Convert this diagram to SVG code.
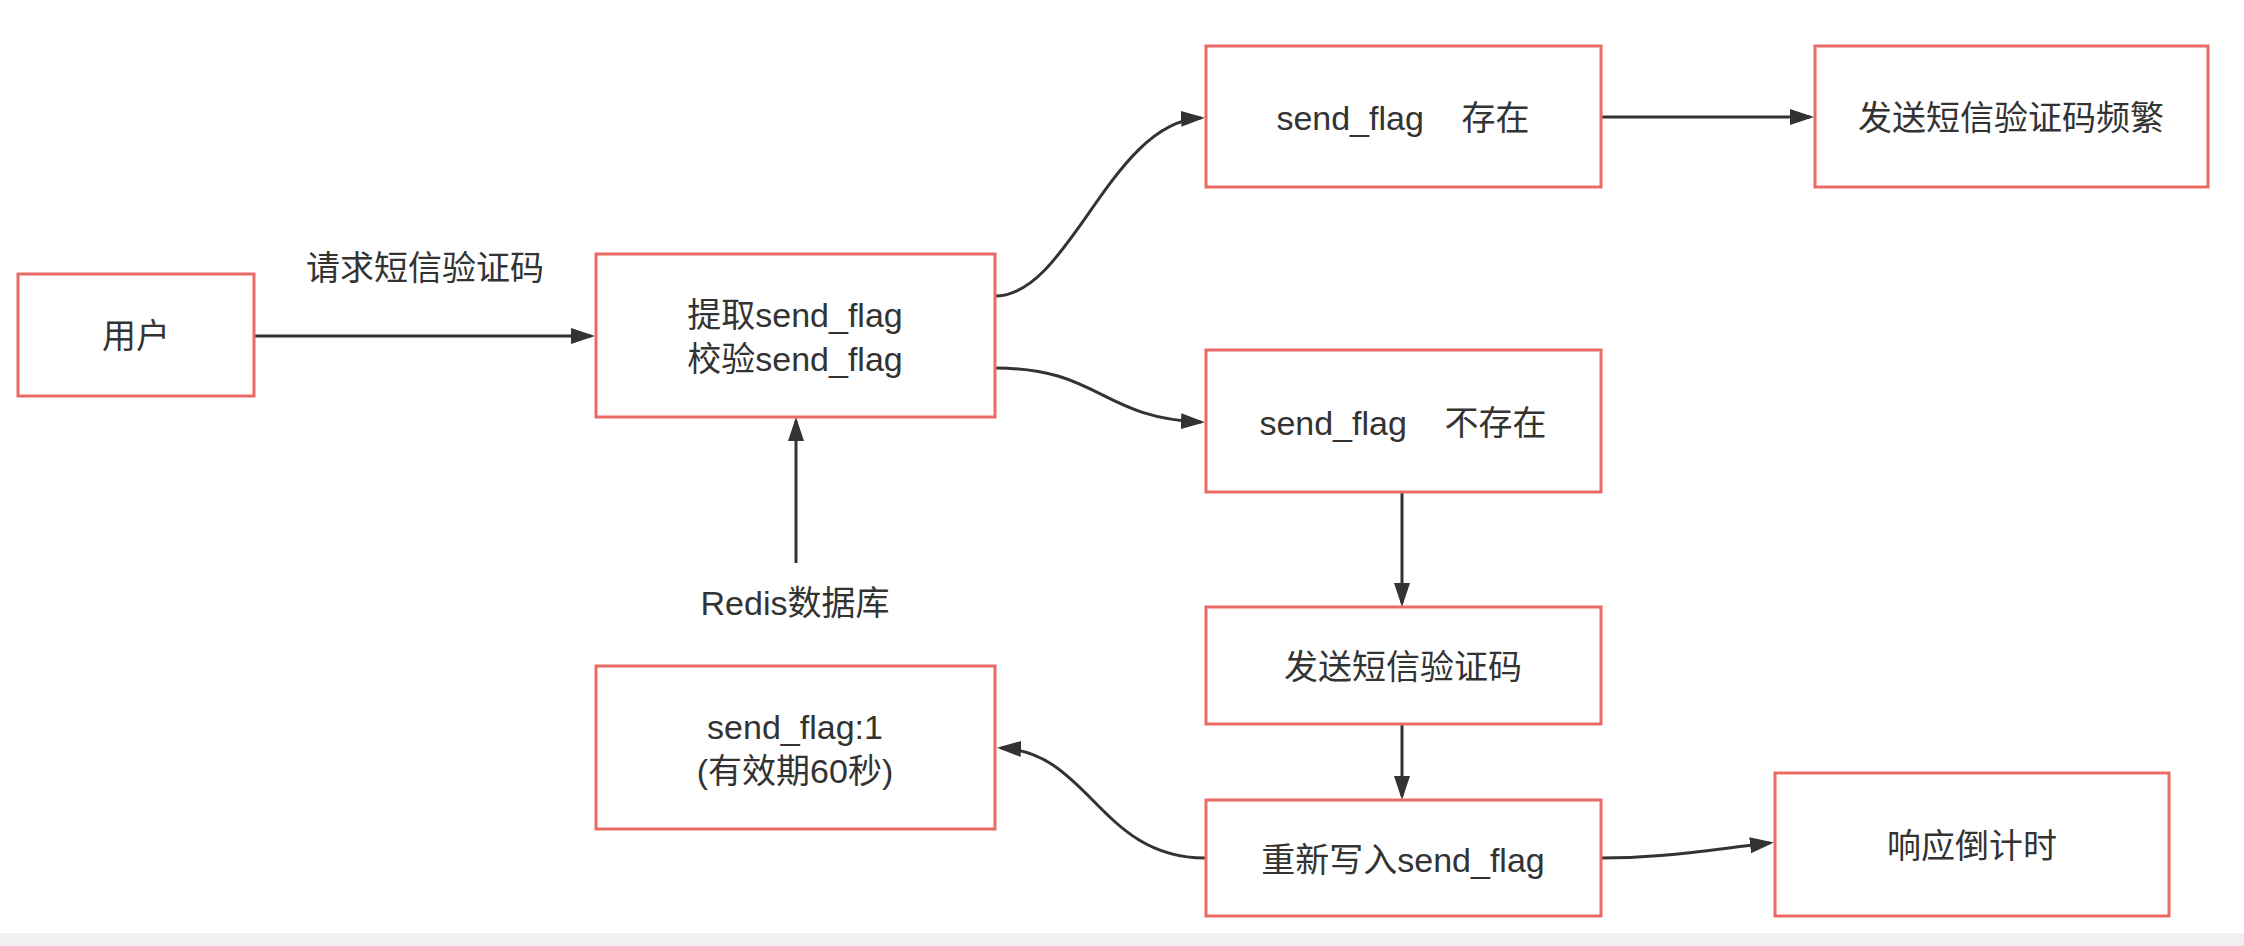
<svg xmlns="http://www.w3.org/2000/svg" width="2244" height="946" viewBox="0 0 2244 946">
  <defs>
    <style>
      .box { fill: #ffffff; stroke: #ea6b66; stroke-width: 3; }
      .t { font-family: "Liberation Sans", "Noto Sans CJK SC", sans-serif; font-size: 34px; fill: #333333; text-anchor: middle; white-space: pre; }
      .edge { fill: none; stroke: #333333; stroke-width: 3; marker-end: url(#arrow); }
    </style>
    <marker id="arrow" markerUnits="userSpaceOnUse" markerWidth="26" markerHeight="18" refX="20" refY="8" orient="auto">
      <path d="M0,0 L24,8 L0,16 z" fill="#333333"/>
    </marker>
  </defs>
  <rect x="0" y="0" width="2244" height="946" fill="#ffffff"/>
  <rect x="0" y="933" width="2244" height="13" fill="#f0f0f0"/>

  <g id="connectors">
    <path class="edge" d="M254,336 L591,336"/>
    <path class="edge" d="M995,296 C1070,296 1110,122 1201,118"/>
    <path class="edge" d="M995,368 C1100,368 1100,418 1201,422"/>
    <path class="edge" d="M1601,117 L1810,117"/>
    <path class="edge" d="M1402,492 L1402,603"/>
    <path class="edge" d="M1402,724 L1402,796"/>
    <path class="edge" d="M1205,858 C1100,858 1090,752 1001,748"/>
    <path class="edge" d="M1601,858 C1660,858 1700,851 1770,843"/>
    <path class="edge" d="M796,563 L796,421"/>
  </g>

  <g id="label-request">
    <text class="t" x="425" y="280">请求短信验证码</text>
  </g>
  <g id="label-redis">
    <text class="t" x="795" y="615">Redis数据库</text>
  </g>

  <g id="node-user">
    <rect class="box" x="18" y="274" width="236" height="122"/>
    <text class="t" x="136" y="348">用户</text>
  </g>
  <g id="node-check">
    <rect class="box" x="596" y="254" width="399" height="163"/>
    <text class="t" x="795" y="327">提取send_flag</text>
    <text class="t" x="795" y="371">校验send_flag</text>
  </g>
  <g id="node-exists">
    <rect class="box" x="1206" y="46" width="395" height="141"/>
    <text class="t" x="1403" y="130" xml:space="preserve">send_flag    存在</text>
  </g>
  <g id="node-frequent">
    <rect class="box" x="1815" y="46" width="393" height="141"/>
    <text class="t" x="2011" y="130">发送短信验证码频繁</text>
  </g>
  <g id="node-not-exists">
    <rect class="box" x="1206" y="350" width="395" height="142"/>
    <text class="t" x="1403" y="435" xml:space="preserve">send_flag    不存在</text>
  </g>
  <g id="node-send">
    <rect class="box" x="1206" y="607" width="395" height="117"/>
    <text class="t" x="1403" y="679">发送短信验证码</text>
  </g>
  <g id="node-rewrite">
    <rect class="box" x="1206" y="800" width="395" height="116"/>
    <text class="t" x="1403" y="872">重新写入send_flag</text>
  </g>
  <g id="node-redis-value">
    <rect class="box" x="596" y="666" width="399" height="163"/>
    <text class="t" x="795" y="739">send_flag:1</text>
    <text class="t" x="795" y="783">(有效期60秒)</text>
  </g>
  <g id="node-countdown">
    <rect class="box" x="1775" y="773" width="394" height="143"/>
    <text class="t" x="1972" y="858">响应倒计时</text>
  </g>
</svg>
